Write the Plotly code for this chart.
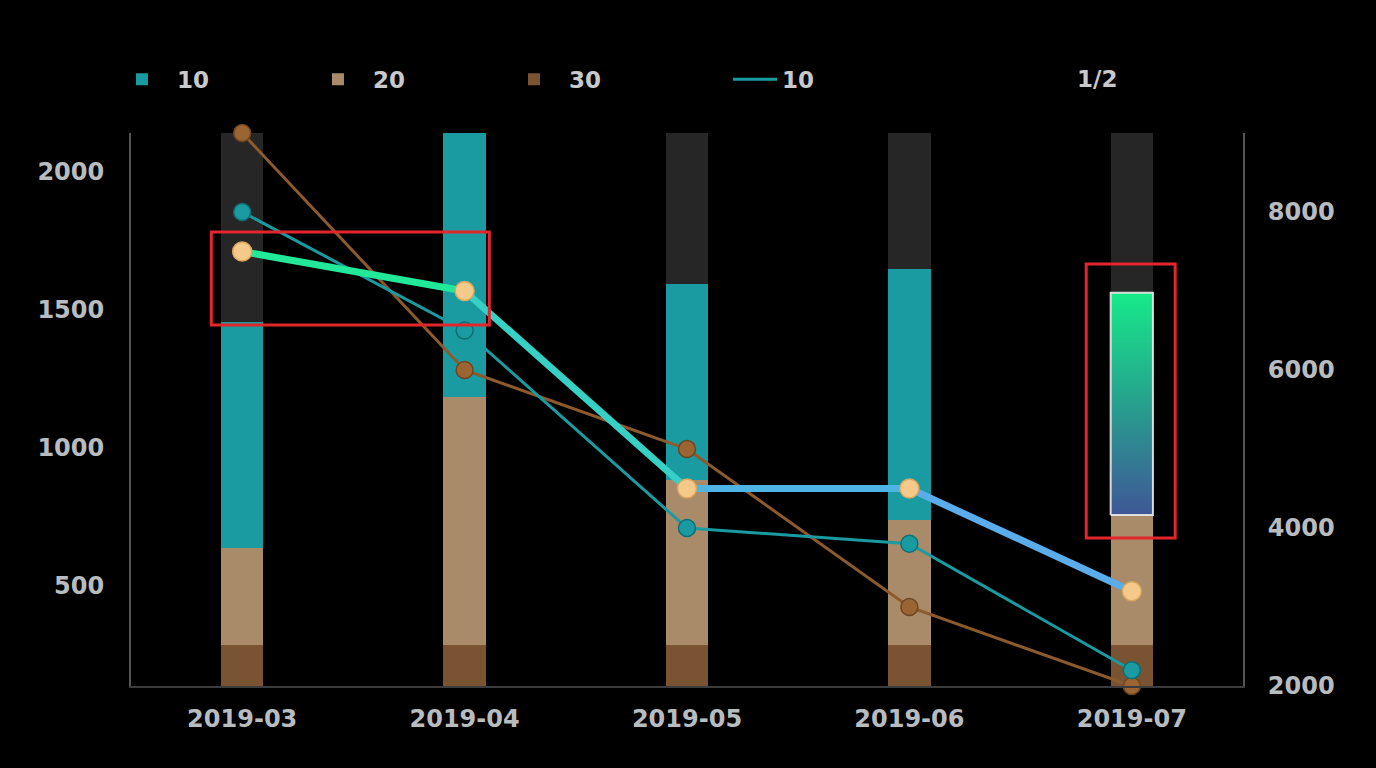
import plotly.graph_objects as go

# ---------------- data ----------------
months = ["2019-03", "2019-04", "2019-05", "2019-06", "2019-07"]

# stacked bar segments (left axis)
seg30 = [286, 286, 286, 286, 286]        # bottom segment "30"
seg20 = [352, 899, 598, 453, 471]        # middle segment "20"
seg10 = [819, 956, 710, 910, 805]        # top segment "10"
cap = [2141, 2141, 2141, 2141, 2141]     # background bar (full height)

# lines (right axis)
line_brown = [9000, 6000, 5000, 3000, 2000]
line_teal = [8000, 6500, 4000, 3800, 2200]
line_ratio = [7500, 7000, 4500, 4500, 3200]

left_ticks = [500, 1000, 1500, 2000]
right_ticks = [2000, 4000, 6000, 8000]

# ---------------- style ----------------
BG = "#000000"
TEAL = "#1a9ba1"
GREY = "#262626"
TXT = "#b9bcbf"
FONT = "DejaVu Sans"
BAR_W = 0.19
TICKFONT = dict(family=FONT, size=24, color=TXT, weight="bold")
LEGFONT = dict(family=FONT, size=23, color="#c9c9c9", weight="bold")

xs = list(range(len(months)))
base20 = seg30
base10 = [a + b for a, b in zip(seg30, seg20)]
top10 = [a + b for a, b in zip(base10, seg10)]

fig = go.Figure()

# background bars
fig.add_trace(go.Bar(x=xs, y=cap, base=0, width=BAR_W, marker=dict(color=GREY, line_width=0),
                     showlegend=False, hoverinfo="skip"))
# "30" bottom
fig.add_trace(go.Bar(x=xs, y=seg30, base=0, width=BAR_W, name="30",
                     marker=dict(color="#7a5432", line_width=0), legendrank=3))
# "20" middle
fig.add_trace(go.Bar(x=xs, y=seg20, base=base20, width=BAR_W, name="20",
                     marker=dict(color="#a98b69", line_width=0), legendrank=2))
# "10" top (last one drawn as gradient highlight)
teal_colors = [TEAL] * (len(xs) - 1) + ["rgba(0,0,0,0)"]
fig.add_trace(go.Bar(x=xs, y=seg10, base=base10, width=BAR_W, name="10",
                     marker=dict(color=teal_colors, line_width=0), legendrank=1))

# highlighted gradient bar for last category
i = len(xs) - 1
hx0, hx1 = xs[i] - BAR_W / 2, xs[i] + BAR_W / 2
hy0, hy1 = base10[i], top10[i]
fig.add_trace(go.Scatter(
    x=[hx0, hx1, hx1, hx0, hx0], y=[hy0, hy0, hy1, hy1, hy0],
    mode="lines", fill="toself",
    fillgradient=dict(type="vertical", colorscale=[[0, "#3f5797"], [0.5, "#27a08e"], [1, "#16ea8a"]]),
    line=dict(color="rgba(235,235,235,0.9)", width=2),
    showlegend=False, hoverinfo="skip"))

# brown line
fig.add_trace(go.Scatter(x=xs, y=line_brown, yaxis="y2", mode="lines+markers",
                         line=dict(color="#8c5a2c", width=3),
                         marker=dict(size=17, color="#9a6533", line=dict(color="#6e4522", width=1.5)),
                         cliponaxis=False, showlegend=False))
# teal line (own legend so its entry can sit further right)
fig.add_trace(go.Scatter(x=xs, y=line_teal, yaxis="y2", mode="lines", name="10",
                         line=dict(color="#1a9ba1", width=3), legend="legend2"))
fig.add_trace(go.Scatter(x=xs, y=line_teal, yaxis="y2", mode="markers",
                         marker=dict(size=17, color="#1a9ba1", line=dict(color="#0f6e74", width=1.5)),
                         cliponaxis=False, showlegend=False))

# thick ratio line, coloured segment by segment
seg_cols = ["#22e89a", "#36d0c4", "#4db4e4", "#5aacea"]
for k in range(len(xs) - 1):
    fig.add_trace(go.Scatter(x=xs[k:k + 2], y=line_ratio[k:k + 2], yaxis="y2", mode="lines",
                             line=dict(color=seg_cols[k], width=7),
                             showlegend=False, hoverinfo="skip"))
fig.add_trace(go.Scatter(x=xs, y=line_ratio, yaxis="y2", mode="markers",
                         marker=dict(size=19, color="#f5c98a", line=dict(color="#d9a75e", width=1.5)),
                         cliponaxis=False, showlegend=False))

# red highlight boxes
fig.add_shape(type="rect", xref="x", yref="y2", x0=-0.139, x1=1.111, y0=6570, y1=7747,
              line=dict(color="#e3262b", width=3), fillcolor="rgba(0,0,0,0)")
fig.add_shape(type="rect", xref="x", yref="y2", x0=3.795, x1=4.195, y0=3873, y1=7342,
              line=dict(color="#e3262b", width=3), fillcolor="rgba(0,0,0,0)")

fig.add_annotation(text="1/2", xref="paper", yref="paper", x=0.8687, y=1.097,
                   xanchor="center", yanchor="middle", showarrow=False, font=LEGFONT)

fig.update_layout(
    width=1376, height=768,
    paper_bgcolor=BG, plot_bgcolor=BG,
    margin=dict(l=131, r=133, t=133, b=82),
    barmode="overlay", bargap=0,
    font=dict(family=FONT, size=24, color=TXT),
    showlegend=True,
    legend=dict(orientation="h", x=-0.0216, y=1.097, xanchor="left", yanchor="middle",
                entrywidth=121, entrywidthmode="pixels", itemwidth=60,
                font=LEGFONT, bgcolor="rgba(0,0,0,0)", traceorder="normal"),
    legend2=dict(orientation="h", x=0.5369, y=1.097, xanchor="left", yanchor="middle",
                 itemwidth=44, font=LEGFONT, bgcolor="rgba(0,0,0,0)"),
    xaxis=dict(range=[-0.5, 4.5], tickvals=xs, ticktext=months, showgrid=False, zeroline=False,
               showline=True, linecolor="#3c3c3c", linewidth=2, ticks="", ticklabelstandoff=10,
               tickfont=TICKFONT),
    yaxis=dict(range=[138, 2141], tickvals=left_ticks, showgrid=False, zeroline=False,
               showline=True, linecolor="#555555", linewidth=2, ticks="", ticklabelstandoff=20,
               tickfont=TICKFONT),
    yaxis2=dict(range=[2000, 9000], tickvals=right_ticks, overlaying="y", side="right",
                showgrid=False, zeroline=False, showline=True, linecolor="#555555", linewidth=2,
                ticks="", ticklabelstandoff=18, tickfont=TICKFONT),
)

fig.write_html("out.html")
